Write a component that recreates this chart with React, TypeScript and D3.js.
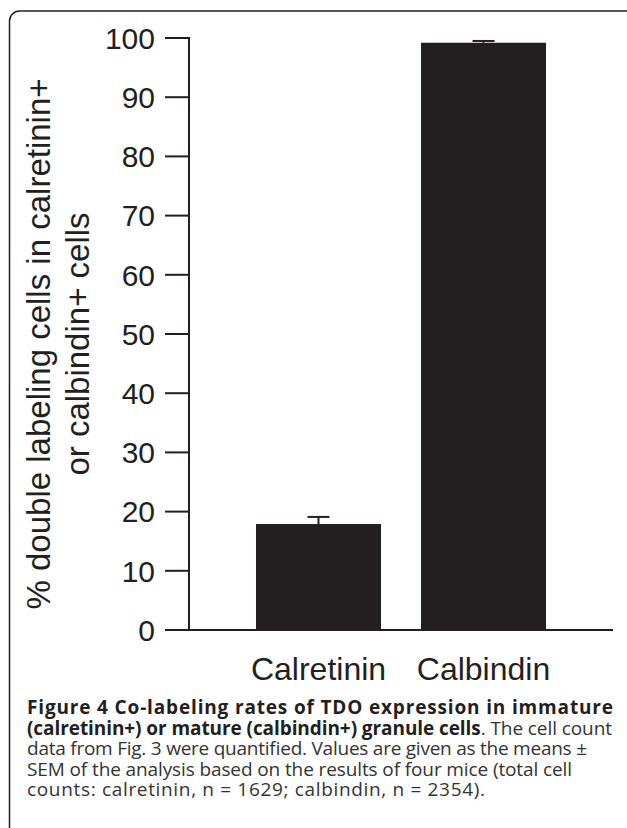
import * as d3 from 'd3';

const categories = ["Calretinin", "Calbindin"];
const means = [17.9, 99.2];
const sems = [1.2, 0.3];
const yTicks = [0, 10, 20, 30, 40, 50, 60, 70, 80, 90, 100];
const yLabelLines = ["% double labeling cells in calretinin+", "or calbindin+ cells"];
const captionLines: {bold: string; normal: string; width: number}[] = [
    {bold: "Figure 4 Co-labeling rates of TDO expression in immature", normal: "", width: 586},
    {bold: "(calretinin+) or mature (calbindin+) granule cells", normal: ". The cell count", width: 585},
    {bold: "", normal: "data from Fig. 3 were quantified. Values are given as the means \u00b1", width: 560},
    {bold: "", normal: "SEM of the analysis based on the results of four mice (total cell", width: 545},
    {bold: "", normal: "counts: calretinin, n = 1629; calbindin, n = 2354).", width: 458},
];

const W = 627;
const H = 828;
const ink = '#231f20';

const App = () => {
    const y = d3.scaleLinear().domain([0, 100]).range([630, 38]);
    const x = d3.scaleBand<string>()
        .domain(categories)
        .range([189, 613])
        .paddingInner(0.2424)
        .paddingOuter(0.406);

    const axisFont = 'Arial, "Liberation Sans", sans-serif';
    const captionFont = '"Open Sans", "Noto Sans", sans-serif';

    return (
        <svg width={W} height={H} style={{position: 'absolute', left: 0, top: 0}}>
            <rect x={9.5} y={11} width={640} height={840} rx={10} fill="white" stroke={ink} strokeWidth={1.5}/>

            {/* y axis */}
            <line x1={189} x2={189} y1={y(100) - 1} y2={y(0) + 1} stroke={ink} strokeWidth={2}/>
            {yTicks.map(t => (
                <g key={t}>
                    <line x1={165} x2={189} y1={y(t)} y2={y(t)} stroke={ink} strokeWidth={2}/>
                    <text x={155} y={y(t)} dy="0.36em" textAnchor="end" fontFamily={axisFont} fontSize={30} fill={ink}>{t}</text>
                </g>
            ))}

            {/* x axis */}
            <line x1={189} x2={613} y1={y(0)} y2={y(0)} stroke={ink} strokeWidth={2}/>

            {/* bars and error bars */}
            {categories.map((c, i) => {
                const cx = (x(c) ?? 0) + x.bandwidth() / 2;
                return (
                    <g key={c}>
                        <rect x={x(c)} y={y(means[i])} width={x.bandwidth()} height={y(0) - y(means[i])} fill={ink}/>
                        <line x1={cx} x2={cx} y1={y(means[i])} y2={y(means[i] + sems[i])} stroke={ink} strokeWidth={2}/>
                        <line x1={cx - 11} x2={cx + 11} y1={y(means[i] + sems[i])} y2={y(means[i] + sems[i])} stroke={ink} strokeWidth={2}/>
                        <text x={cx} y={680} textAnchor="middle" fontFamily={axisFont} fontSize={32} fill={ink}>{c}</text>
                    </g>
                );
            })}

            {/* y label */}
            {yLabelLines.map((l, i) => (
                <text key={l} transform={`translate(${50 + i * 39},344) rotate(-90)`} textAnchor="middle"
                      fontFamily={axisFont} fontSize={33} fill={ink}>{l}</text>
            ))}

            {/* caption */}
            {captionLines.map((l, i) => (
                <text key={i} x={27} y={714 + i * 20.5} fontFamily={captionFont} fontSize={19} fill={ink}
                      textLength={l.width} lengthAdjust="spacing">
                    {l.bold && <tspan fontWeight="bold">{l.bold}</tspan>}
                    {l.normal && <tspan fill="#333">{l.normal}</tspan>}
                </text>
            ))}
        </svg>
    );
};

export default App;
